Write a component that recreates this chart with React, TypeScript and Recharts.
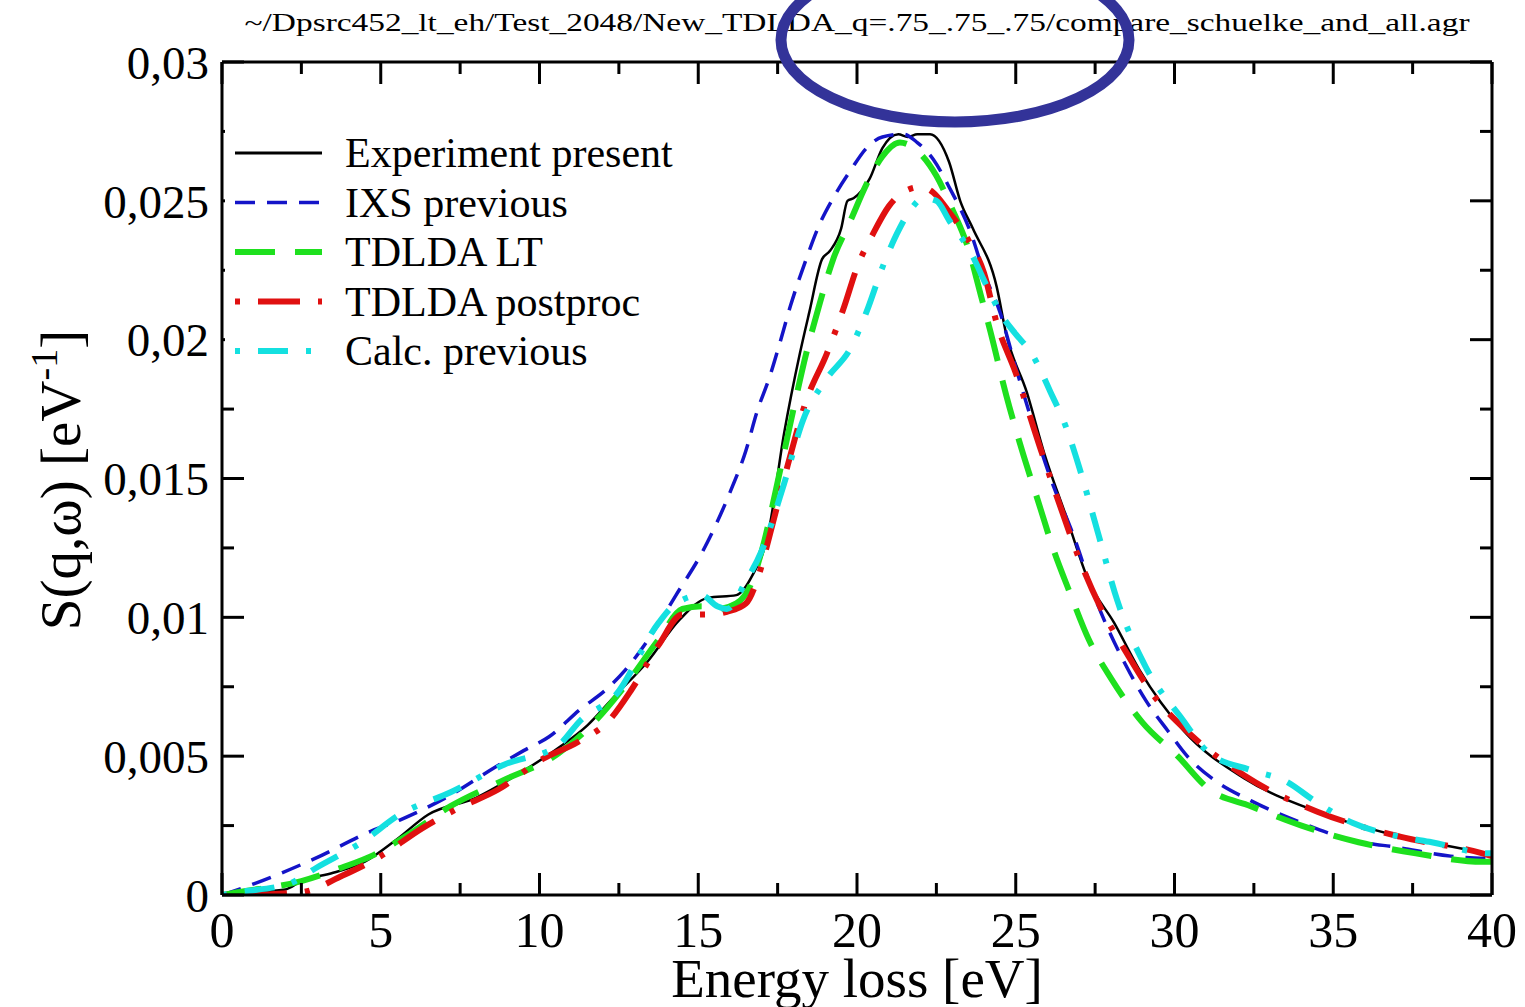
import { Legend, Line, LineChart, XAxis, YAxis } from "recharts";

// energy loss [eV] / S(q,w) [1/eV]
const expE = [0, 1, 2, 2.5, 3.5, 4.5, 5.5, 6.5, 8, 9.25, 10.6, 11.5, 12.4, 13.4, 14.4, 15.3, 16.2, 16.7, 17.2, 17.7, 18.2, 18.5, 18.9, 19.15, 19.5, 19.7, 19.9, 20.4, 20.8, 21.3, 21.6, 21.9, 22.3, 22.9, 23.25, 23.65, 24.4, 24.7, 25.35, 25.9, 26.6, 27.3, 28.1, 28.9, 30.3, 32.2, 34.5, 37.1, 39.7, 40];
const expS = [0, 0.0001, 0.0002, 0.0005, 0.0008, 0.0012, 0.002, 0.0029, 0.0035, 0.0043, 0.0053, 0.0061, 0.0072, 0.0084, 0.0099, 0.0107, 0.0108, 0.0115, 0.013, 0.0166, 0.0195, 0.021, 0.0229, 0.0232, 0.024, 0.025, 0.0251, 0.0258, 0.0269, 0.0274, 0.0273, 0.0274, 0.0274, 0.0264, 0.025, 0.024, 0.0219, 0.0202, 0.0181, 0.0159, 0.0136, 0.0113, 0.0098, 0.0081, 0.0059, 0.0042, 0.003, 0.0021, 0.0015, 0.0014];

const ixsE = [0, 1, 2.9, 4.7, 5.6, 7.2, 8.6, 9.5, 10.3, 11.3, 12.1, 12.7, 13.6, 14.3, 15.15, 16, 16.5, 16.85, 17.26, 17.6, 17.9, 18.4, 18.8, 19.25, 19.8, 20.3, 20.8, 21.45, 21.9, 22.4, 22.9, 23.6, 24, 24.5, 25, 25.5, 26.1, 26.8, 27.5, 28.5, 29.1, 29.8, 30.4, 31.3, 32.4, 34, 35.5, 37.1, 38.7, 40];
const ixsS = [0, 0.0004, 0.0013, 0.0023, 0.0027, 0.0036, 0.0046, 0.0052, 0.0057, 0.0067, 0.0074, 0.0081, 0.0095, 0.0108, 0.0124, 0.0145, 0.016, 0.0174, 0.0187, 0.02, 0.0212, 0.0229, 0.0241, 0.0251, 0.0261, 0.0269, 0.0273, 0.0274, 0.0271, 0.0265, 0.0255, 0.0238, 0.0224, 0.021, 0.019, 0.0171, 0.015, 0.013, 0.0107, 0.0082, 0.007, 0.0059, 0.005, 0.0041, 0.0034, 0.0026, 0.002, 0.0017, 0.0014, 0.0013];

const ltE = [0, 0.5, 2.5, 3.8, 4.7, 5.9, 7.2, 8.8, 10.6, 11.7, 12.6, 13.75, 14.5, 15.1, 15.6, 16.2, 16.7, 17, 17.6, 18, 18.4, 18.8, 19.25, 19.8, 20.3, 20.8, 21.35, 21.9, 22.5, 23, 23.5, 23.9, 24.2, 24.7, 25.2, 25.7, 26.2, 26.7, 27.3, 28, 29, 30.1, 31.1, 32.4, 34, 35.8, 37.6, 39.7, 40];
const ltS = [0, 0.0001, 0.0005, 0.001, 0.0014, 0.0022, 0.0032, 0.0041, 0.0051, 0.0062, 0.0074, 0.0092, 0.0103, 0.0104, 0.0103, 0.0105, 0.0113, 0.0124, 0.0154, 0.0175, 0.0195, 0.0212, 0.0229, 0.0243, 0.0256, 0.0266, 0.0271, 0.0268, 0.0259, 0.0247, 0.0233, 0.0216, 0.0203, 0.018, 0.016, 0.0142, 0.0124, 0.0109, 0.0092, 0.0078, 0.0062, 0.005, 0.0038, 0.0032, 0.0025, 0.0019, 0.0015, 0.0012, 0.0012];

const ppE = [0, 0.5, 2.5, 3.8, 5, 6.3, 7.4, 8.7, 10.1, 11.2, 12.2, 12.9, 13.75, 14.5, 15.3, 15.9, 16.5, 16.9, 17.26, 17.8, 18.4, 19.05, 19.6, 20, 20.5, 21, 21.6, 22, 22.4, 22.9, 23.5, 24, 24.4, 25, 25.8, 26.4, 27, 27.65, 28.5, 29.4, 30.3, 32.2, 34.5, 37.1, 39.7, 40];
const ppS = [0, 0, 0.0001, 0.0007, 0.0014, 0.0024, 0.0031, 0.0038, 0.0049, 0.0055, 0.0063, 0.0074, 0.009, 0.0101, 0.0101, 0.0102, 0.0105, 0.0115, 0.013, 0.0154, 0.0178, 0.0195, 0.0212, 0.0226, 0.0238, 0.0248, 0.0254, 0.0255, 0.0253, 0.0246, 0.0236, 0.0224, 0.0206, 0.0188, 0.016, 0.014, 0.0121, 0.0104, 0.0087, 0.0071, 0.006, 0.0043, 0.003, 0.0021, 0.0015, 0.0014];

const calcE = [0, 0.5, 2.1, 3, 4.4, 5.6, 7.2, 8.9, 10.6, 11.3, 12.4, 13.75, 14.3, 15.1, 15.6, 15.9, 16.5, 17, 17.7, 18.3, 19.05, 19.8, 20.3, 20.8, 21.25, 21.7, 22.1, 22.5, 22.9, 23.6, 24.1, 24.6, 25, 25.5, 26.1, 26.6, 27, 27.6, 28.2, 29.1, 30.2, 31.1, 32.4, 33.5, 34.4, 35.6, 37.1, 38.1, 39.9, 40];
const calcS = [0, 0.0001, 0.0004, 0.001, 0.0019, 0.0029, 0.0037, 0.0047, 0.0054, 0.0063, 0.0072, 0.0098, 0.0105, 0.0108, 0.0104, 0.0103, 0.0113, 0.0124, 0.0148, 0.0171, 0.0186, 0.0197, 0.021, 0.0226, 0.0238, 0.0247, 0.0251, 0.025, 0.0243, 0.0231, 0.0219, 0.0208, 0.0202, 0.0195, 0.0181, 0.0168, 0.0154, 0.013, 0.0106, 0.0082, 0.0064, 0.0051, 0.0045, 0.0041, 0.0034, 0.0026, 0.0021, 0.0019, 0.0015, 0.0015];

// every 2.5 eV a tick, labels on multiples of 5
const xTicks = [0, 2.5, 5, 7.5, 10, 12.5, 15, 17.5, 20, 22.5, 25, 27.5, 30, 32.5, 35, 37.5, 40];
const yTicks = [0, 0.0025, 0.005, 0.0075, 0.01, 0.0125, 0.015, 0.0175, 0.02, 0.0225, 0.025, 0.0275, 0.03];

const title = "~/Dpsrc452_lt_eh/Test_2048/New_TDLDA_q=.75_.75_.75/compare_schuelke_and_all.agr";
const serif = "'Liberation Serif', 'DejaVu Serif', serif";

const W = 1525;
const H = 1007;
const margin = { top: 62, right: 33, bottom: 0, left: 22 };
const yAxisW = 200;
const xAxisH = 112;
const plotTop = margin.top;
const plotRight = W - margin.right;
const xTickMargin = 16;
const yTickMargin = 13;

const toPoints = (e: number[], s: number[]) => e.map((x, i) => ({ e: x, s: s[i] }));

const series = [
  { name: "Experiment present", data: toPoints(expE, expS), color: "#000000", width: 2.5, legendWidth: 3, dash: undefined as string | undefined },
  { name: "IXS previous", data: toPoints(ixsE, ixsS), color: "#1414c8", width: 3.5, legendWidth: 3.5, dash: "20 12" },
  { name: "TDLDA LT", data: toPoints(ltE, ltS), color: "#1ee01e", width: 6, legendWidth: 6, dash: "40 20" },
  { name: "TDLDA postproc", data: toPoints(ppE, ppS), color: "#e01010", width: 6, legendWidth: 6, dash: "5 18 42 18" },
  { name: "Calc. previous", data: toPoints(calcE, calcS), color: "#14e0e0", width: 6, legendWidth: 6, dash: "5 18 30 18" },
];

const fmtY = (v: number) => (v === 0 ? "0" : String(v).replace(".", ","));
const frame = { stroke: "#000", strokeWidth: 3 };

// tick marks point inwards on all four sides, long on labelled values
function XTick(props: any) {
  const { x, y, payload } = props;
  const v = payload.value as number;
  const major = v % 5 === 0;
  const len = major ? 22 : 12;
  const axisY = y - xTickMargin;
  return (
    <g>
      <line x1={x} x2={x} y1={axisY} y2={axisY - len} stroke="#000" strokeWidth={3} />
      <line x1={x} x2={x} y1={plotTop} y2={plotTop + len} stroke="#000" strokeWidth={3} />
      {major && (
        <text x={x} y={y} dy="0.71em" textAnchor="middle" fontSize={50} fontFamily={serif} fill="#000">
          {v}
        </text>
      )}
    </g>
  );
}

function YTick(props: any) {
  const { x, y, payload } = props;
  const v = payload.value as number;
  const major = Math.round(v * 10000) % 50 === 0;
  const len = major ? 22 : 12;
  const axisX = x + yTickMargin;
  return (
    <g>
      <line x1={axisX} x2={axisX + len} y1={y} y2={y} stroke="#000" strokeWidth={3} />
      <line x1={plotRight} x2={plotRight - len} y1={y} y2={y} stroke="#000" strokeWidth={3} />
      {major && (
        <text x={x} y={y} dy="0.355em" textAnchor="end" fontSize={47} fontFamily={serif} fill="#000">
          {fmtY(v)}
        </text>
      )}
    </g>
  );
}

function LegendBox() {
  return (
    <svg width={470} height={265} style={{ display: "block", background: "#fff" }}>
      {series.map((s, i) => {
        const y = 33 + i * 49.5;
        return (
          <g key={s.name}>
            <line x1={10} x2={97} y1={y} y2={y} stroke={s.color} strokeWidth={s.legendWidth} strokeDasharray={s.dash} />
            <text x={120} y={y + 14} fontSize={42} fontFamily={serif} fill="#000">
              {s.name}
            </text>
          </g>
        );
      })}
    </svg>
  );
}

function YTitle() {
  return (
    <text transform="translate(80,480) rotate(-90)" textAnchor="middle" fontSize={57} fontFamily={serif} fill="#000">
      S(q,ω) [eV
      <tspan dy={-23} fontSize={38}>-1</tspan>
      <tspan dy={23}>]</tspan>
    </text>
  );
}

export default function App() {
  return (
    <div style={{ position: "absolute", left: 0, top: 0, width: W, height: H, background: "#fff" }}>
      <LineChart width={W} height={H} margin={margin}>
        <XAxis
          xAxisId="x"
          dataKey="e"
          type="number"
          domain={[0, 40]}
          ticks={xTicks}
          interval={0}
          allowDataOverflow
          height={xAxisH}
          tickLine={false}
          tickSize={0}
          tickMargin={xTickMargin}
          axisLine={frame}
          tick={<XTick />}
          label={{ value: "Energy loss [eV]", position: "insideBottom", offset: 10, fontSize: 55, fontFamily: serif, fill: "#000" }}
        />
        <XAxis xAxisId="top" orientation="top" type="number" domain={[0, 40]} ticks={[0, 40]} allowDataOverflow mirror height={1} tick={false} tickLine={false} axisLine={frame} />

        <YAxis
          yAxisId="y"
          type="number"
          domain={[0, 0.03]}
          ticks={yTicks}
          interval={0}
          allowDataOverflow
          width={yAxisW}
          tickLine={false}
          tickSize={0}
          tickMargin={yTickMargin}
          axisLine={frame}
          tick={<YTick />}
          label={<YTitle />}
        />
        <YAxis yAxisId="right" orientation="right" type="number" domain={[0, 0.03]} ticks={[0, 0.03]} allowDataOverflow mirror width={1} tick={false} tickLine={false} axisLine={frame} />

        {series.map((s) => (
          <Line
            key={s.name}
            xAxisId="x"
            yAxisId="y"
            data={s.data}
            dataKey="s"
            name={s.name}
            type="monotone"
            stroke={s.color}
            strokeWidth={s.width}
            strokeDasharray={s.dash}
            dot={false}
            activeDot={false}
            isAnimationActive={false}
          />
        ))}

        <Legend
          layout="horizontal"
          verticalAlign="middle"
          align="center"
          content={() => <LegendBox />}
          wrapperStyle={{ left: 225, top: 120, width: 470, height: 265 }}
        />
      </LineChart>

      <svg width={W} height={H} style={{ position: "absolute", left: 0, top: 0, pointerEvents: "none" }}>
        <text x={857} y={31} textAnchor="middle" fontSize={26} fontFamily={serif} fill="#000" textLength={1225} lengthAdjust="spacingAndGlyphs">
          {title}
        </text>
        <ellipse cx={955} cy={40} rx={174} ry={82} fill="none" stroke="#333399" strokeWidth={11} />
      </svg>
    </div>
  );
}
